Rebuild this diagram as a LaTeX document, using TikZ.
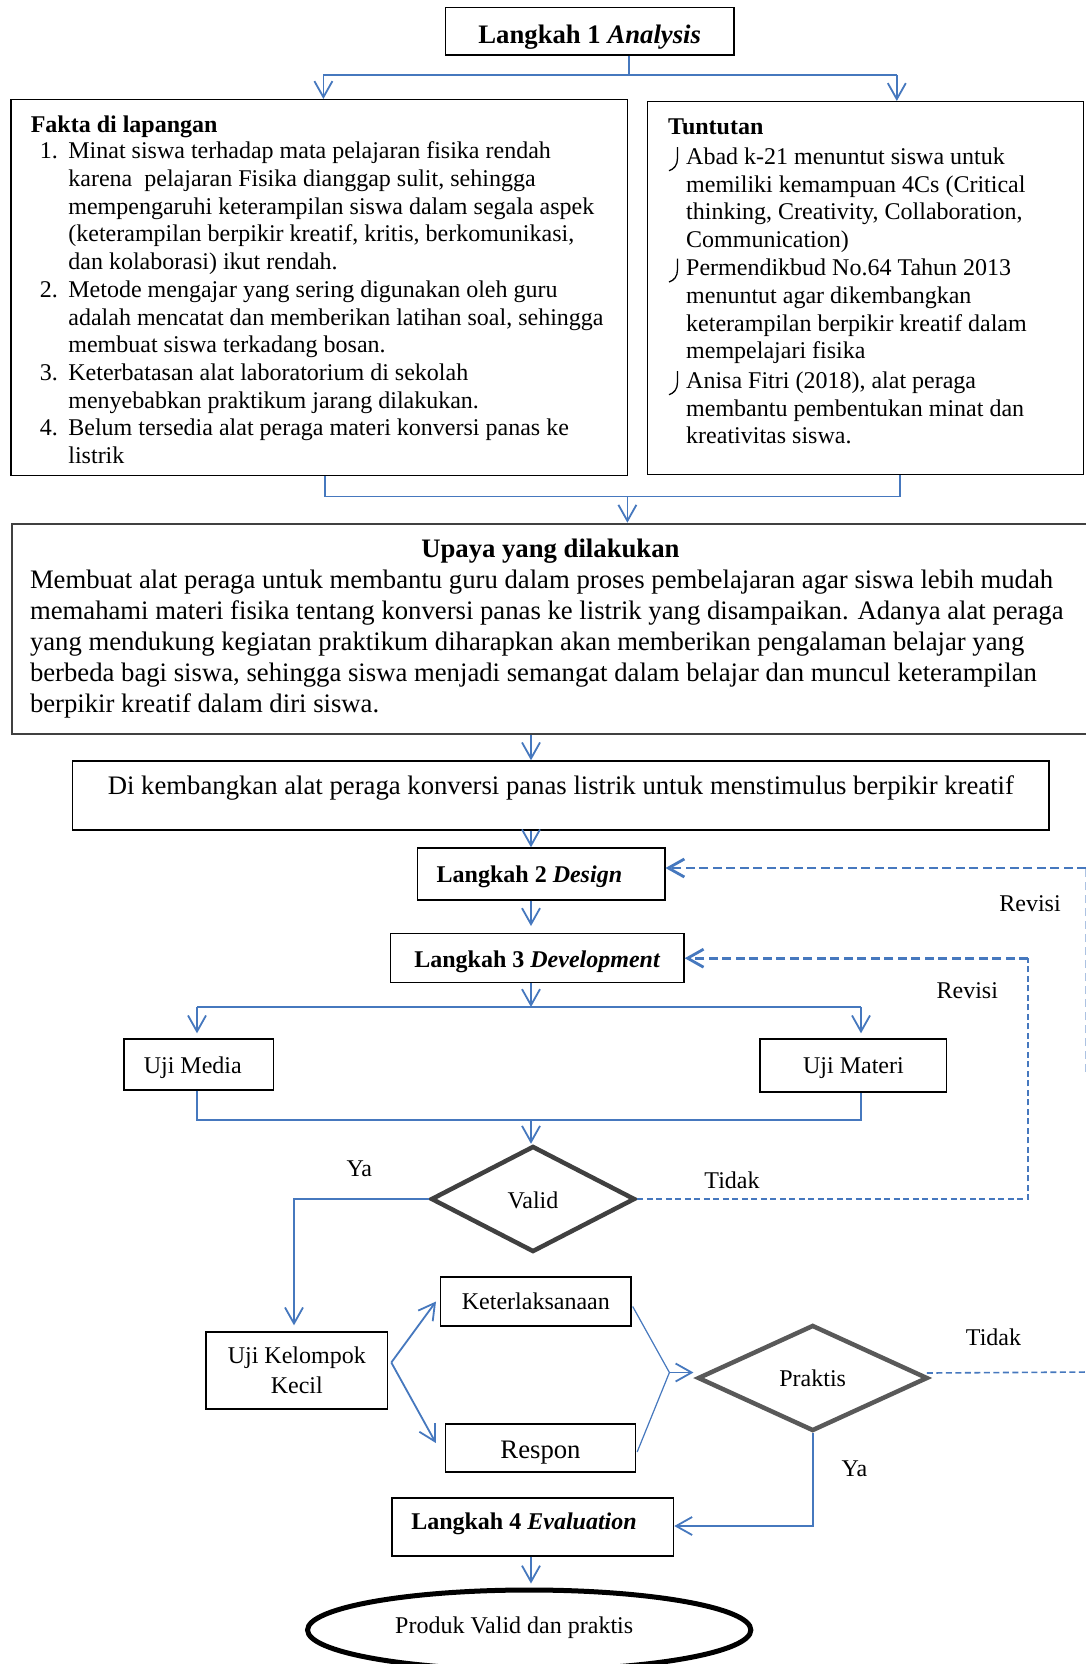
\documentclass[tikz,border=0pt]{standalone}
\usepackage{fontspec}
\setmainfont{Liberation Serif}
\usetikzlibrary{arrows.meta,shapes.geometric,calc}
\definecolor{connc}{RGB}{70,120,190}
\definecolor{dkg}{RGB}{64,64,64}
\definecolor{mdg}{RGB}{89,89,89}
\newcommand{\fsA}{\fontsize{24}{27.7}\selectfont}
\newcommand{\fsB}{\fontsize{26.7}{31.1}\selectfont}
\begin{document}
\begin{tikzpicture}[x=1pt,y=-1pt,
  box/.style={draw=black,line width=1.4pt,rectangle,inner sep=0pt,font=\fsA},
  tb/.style 2 args={text height=#1pt,text depth=#2pt},
  txt/.style={align=left,inner sep=0pt,font=\fsA},
  lbl/.style={inner sep=0pt,font=\fsA,anchor=base},
  conn/.style={draw=connc,line width=1.8pt},
  arr/.style={conn,-{Straight Barb[length=16pt,width=18pt]}},
  dthick/.style={draw=connc,line width=2.8pt,dash pattern=on 9pt off 4.5pt},
  dthin/.style={draw=connc,line width=1.6pt,dash pattern=on 6pt off 3.5pt},
  dlight/.style={draw=connc!45,line width=1.5pt,dash pattern=on 8pt off 5pt},
  darr/.style={-{Straight Barb[length=16pt,width=18pt]}}
]
\fill[white] (0,0) rectangle (1086,1664);
\useasboundingbox (0,0) rectangle (1086,1664);

% ---------- top ----------
\node[box,font=\bfseries\fsB,tb={26}{0.9},minimum width=288.7pt,minimum height=47.7pt] (L1) at (589.7,31.15) {Langkah 1 \textit{Analysis}};

\node[draw=black,line width=1.4pt,inner sep=0pt,minimum width=616.8pt,minimum height=376pt,anchor=north west] (fakta) at (10.2,99) {};
\node[draw=black,line width=1.4pt,inner sep=0pt,minimum width=436.3pt,minimum height=373pt,anchor=north west] (tunt) at (646.7,101) {};

\node[lbl,anchor=base west,font=\bfseries\fsA] (faktaT) at (30.6,133) {Fakta di lapangan};
\node[txt,anchor=north west] (faktaL) at (39.6,139.3) {\strut\makebox[28.6pt][l]{1.}Minat siswa terhadap mata pelajaran fisika rendah\\
\hspace*{28.6pt}karena\hspace{6pt} pelajaran Fisika dianggap sulit, sehingga\\
\hspace*{28.6pt}mempengaruhi keterampilan siswa dalam segala aspek\\
\hspace*{28.6pt}(keterampilan berpikir kreatif, kritis, berkomunikasi,\\
\hspace*{28.6pt}dan kolaborasi) ikut rendah.\\
\makebox[28.6pt][l]{2.}Metode mengajar yang sering digunakan oleh guru\\
\hspace*{28.6pt}adalah mencatat dan memberikan latihan soal, sehingga\\
\hspace*{28.6pt}membuat siswa terkadang bosan.\\
\makebox[28.6pt][l]{3.}Keterbatasan alat laboratorium di sekolah\\
\hspace*{28.6pt}menyebabkan praktikum jarang dilakukan.\\
\makebox[28.6pt][l]{4.}Belum tersedia alat peraga materi konversi panas ke\\
\hspace*{28.6pt}listrik};

\node[lbl,anchor=base west,font=\bfseries\fsA] (tuntT) at (668,134.5) {Tuntutan};
\node[txt,anchor=north west] (tu1) at (686,144.8) {\strut Abad k-21 menuntut siswa untuk\\memiliki kemampuan 4Cs (Critical\\thinking, Creativity, Collaboration,\\Communication)};
\node[txt,anchor=north west] (tu2) at (686,256.1) {\strut Permendikbud No.64 Tahun 2013\\menuntut agar dikembangkan\\keterampilan berpikir kreatif dalam\\mempelajari fisika};
\node[txt,anchor=north west] (tu3) at (686,368.8) {\strut Anisa Fitri (2018), alat peraga\\membantu pembentukan minat dan\\kreativitas siswa.};
\foreach \b in {164.2,275.5,388.2}
  \draw[line width=1.3pt] (677.5,\b-17) -- (677.5,\b-6) .. controls (677.5,\b+1) and (674,\b+5) .. (669,\b+6.5);

% connectors top
\coordinate (j1) at (629,75);
\coordinate (j1l) at (323.4,75);
\coordinate (j1r) at (896.8,75);
\draw[conn] (L1.south -| j1) -- (j1);
\draw[conn] (j1l) -- (j1r);
\draw[arr] (j1l) -- (j1l |- fakta.north);
\draw[arr] (j1r) -- (j1r |- tunt.north);

% ---------- Upaya ----------
\node[draw=dkg,line width=2pt,inner sep=0pt,minimum width=1081.4pt,minimum height=210.3pt,anchor=north west] (upaya) at (10.6,522.7) {};
\node[lbl,font=\bfseries\fsB] (upayaT) at (550.4,557) {Upaya yang dilakukan};
\node[txt,font=\fsB,anchor=north west] (upayaB) at (29.8,566.2) {\strut Membuat alat peraga untuk membantu guru dalam proses pembelajaran agar siswa lebih mudah\\
memahami materi fisika tentang konversi panas ke listrik yang disampaikan. Adanya alat peraga\\
yang mendukung kegiatan praktikum diharapkan akan memberikan pengalaman belajar yang\\
berbeda bagi siswa, sehingga siswa menjadi semangat dalam belajar dan muncul keterampilan\\
berpikir kreatif dalam diri siswa.};

\coordinate (j2l) at (324.8,496.5);
\coordinate (j2r) at (900.3,496.5);
\coordinate (j2c) at (627.4,496.5);
\draw[conn] (j2l |- fakta.south) -- (j2l) -- (j2r) -- (j2r |- tunt.south);
\draw[arr] (j2c) -- (j2c |- upaya.north);

% ---------- middle ----------
\node[box,font=\fsB,tb={19}{21},minimum width=976.3pt,minimum height=69pt] (DiK) at (560.9,795.5) {Di kembangkan alat peraga konversi panas listrik untuk menstimulus berpikir kreatif};
\node[box,font=\bfseries\fsA,tb={17}{0},minimum width=247.2pt,minimum height=52pt] (L2) at (541.2,874) {Langkah 2 \textit{Design}\hspace*{23.6pt}};
\node[box,font=\bfseries\fsA,tb={19}{1},minimum width=293.4pt,minimum height=49pt] (L3) at (537.3,958.2) {Langkah 3 \textit{Development}};
\node[box,tb={19}{1.6},minimum width=149.5pt,minimum height=51pt] (UM) at (198.75,1064.5) {Uji Media\hspace*{12pt}};
\node[box,tb={17}{1.6},minimum width=186.7pt,minimum height=53pt] (UMat) at (853.4,1065.5) {Uji Materi};
\node[diamond,draw=dkg,line width=4.5pt,inner sep=0pt,font=\fsA,tb={19}{0.6},minimum width=204pt,minimum height=106pt] (valid) at (533,1199) {Valid};

\coordinate (colx) at (531,0);
\draw[arr] (upaya.south -| colx) -- (DiK.north -| colx);
\draw[arr] (DiK.south -| colx) -- (L2.north -| colx);
\draw[arr] (L2.south -| colx) -- ($(L3.north -| colx)+(0,-7)$);
\coordinate (s1) at (531,1007);
\coordinate (s1l) at (197,1007);
\coordinate (s1r) at (861,1007);
\draw[arr] (L3.south -| colx) -- (s1);
\draw[conn] (s1l) -- (s1r);
\draw[arr] (s1l) -- ($(s1l |- UM.north)+(0,-5)$);
\draw[arr] (s1r) -- ($(s1r |- UMat.north)+(0,-5)$);
\coordinate (m1) at (531,1120);
\coordinate (m1l) at (197,1120);
\coordinate (m1r) at (861,1120);
\draw[conn] (m1l |- UM.south) -- (m1l) -- (m1r) -- (m1r |- UMat.south);
\draw[arr] (m1) -- (valid.north -| colx);

% feedback loops
\coordinate (t1) at (1028,0);
\draw[dthin] (valid.east) -- (valid.east -| t1) -- (t1 |- L3.east);
\draw[dthick,darr] (t1 |- L3.east) -- (L3.east);
\coordinate (o1) at (1086,868);
\coordinate (o2) at (1085.3,1072);
\draw[dlight] (o2) -- (1085.3,868);
\draw[dthick,darr] (o1) -- (L2.east |- o1);

\node[lbl] (ya1) at (359.3,1176.5) {Ya};
\node[lbl] (tidak1) at (732,1188.2) {Tidak};
\node[lbl] (rev1) at (1030,911) {Revisi};
\node[lbl] (rev2) at (967.3,998.5) {Revisi};

% ---------- bottom ----------
\node[box,align=center,font=\fontsize{24}{30}\selectfont,minimum width=181.6pt,minimum height=77pt] (UK) at (296.8,1370.5) {Uji Kelompok\\Kecil};
\node[box,tb={17}{1},minimum width=190.3pt,minimum height=49pt] (K) at (535.85,1301.5) {Keterlaksanaan};
\node[box,font=\fsB,tb={21}{0},minimum width=189.9pt,minimum height=48pt] (R) at (540.5,1448) {Respon};
\node[diamond,draw=mdg,line width=4.5pt,inner sep=0pt,font=\fsA,tb={17}{0},minimum width=230pt,minimum height=106pt] (prak) at (812.7,1378) {Praktis};
\node[box,font=\bfseries\fsA,tb={17}{12},minimum width=281.8pt,minimum height=58pt] (L4) at (532.7,1527) {Langkah 4 \textit{Evaluation}\hspace*{17.4pt}};
\node[ellipse,draw=black,line width=5pt,inner sep=0pt,font=\fsA,tb={17}{10.6},minimum width=443.3pt,minimum height=80pt] (ell) at (529.2,1630) {Produk Valid dan praktis\hspace*{30pt}};

\coordinate (y1) at (294,0);
\draw[arr] (valid.west) -- (valid.west -| y1) -- ($(y1 |- UK.north)+(0,-6)$);
\draw[arr] ($(UK.east)+(3,-8)$) -- ($(K.west)+(-4,0)$);
\draw[arr] ($(UK.east)+(3,-8)$) -- ($(R.west)+(-9,-5)$);
\coordinate (mp) at (669.4,1372.5);
\draw[conn,line width=1.2pt] ($(K.east)+(1,5)$) -- (mp) -- ($(R.east)+(1,4)$);
\draw[arr] (mp) -- ($(prak.west |- mp)+(-2,0)$);
\coordinate (o3) at (1090,1372);
\draw[dthin] ($(prak.east)+(-3,-5)$) -- (o3);
\coordinate (py) at (0,1526);
\draw[arr] (prak.south) -- (prak.south |- py) -- (L4.east |- py);
\draw[arr] (L4.south -| colx) -- ($(ell.north -| colx)+(0,-4)$);

\node[lbl] (tidak2) at (993.5,1345.1) {Tidak};
\node[lbl] (ya2) at (854.5,1476.5) {Ya};
\end{tikzpicture}
\end{document}
